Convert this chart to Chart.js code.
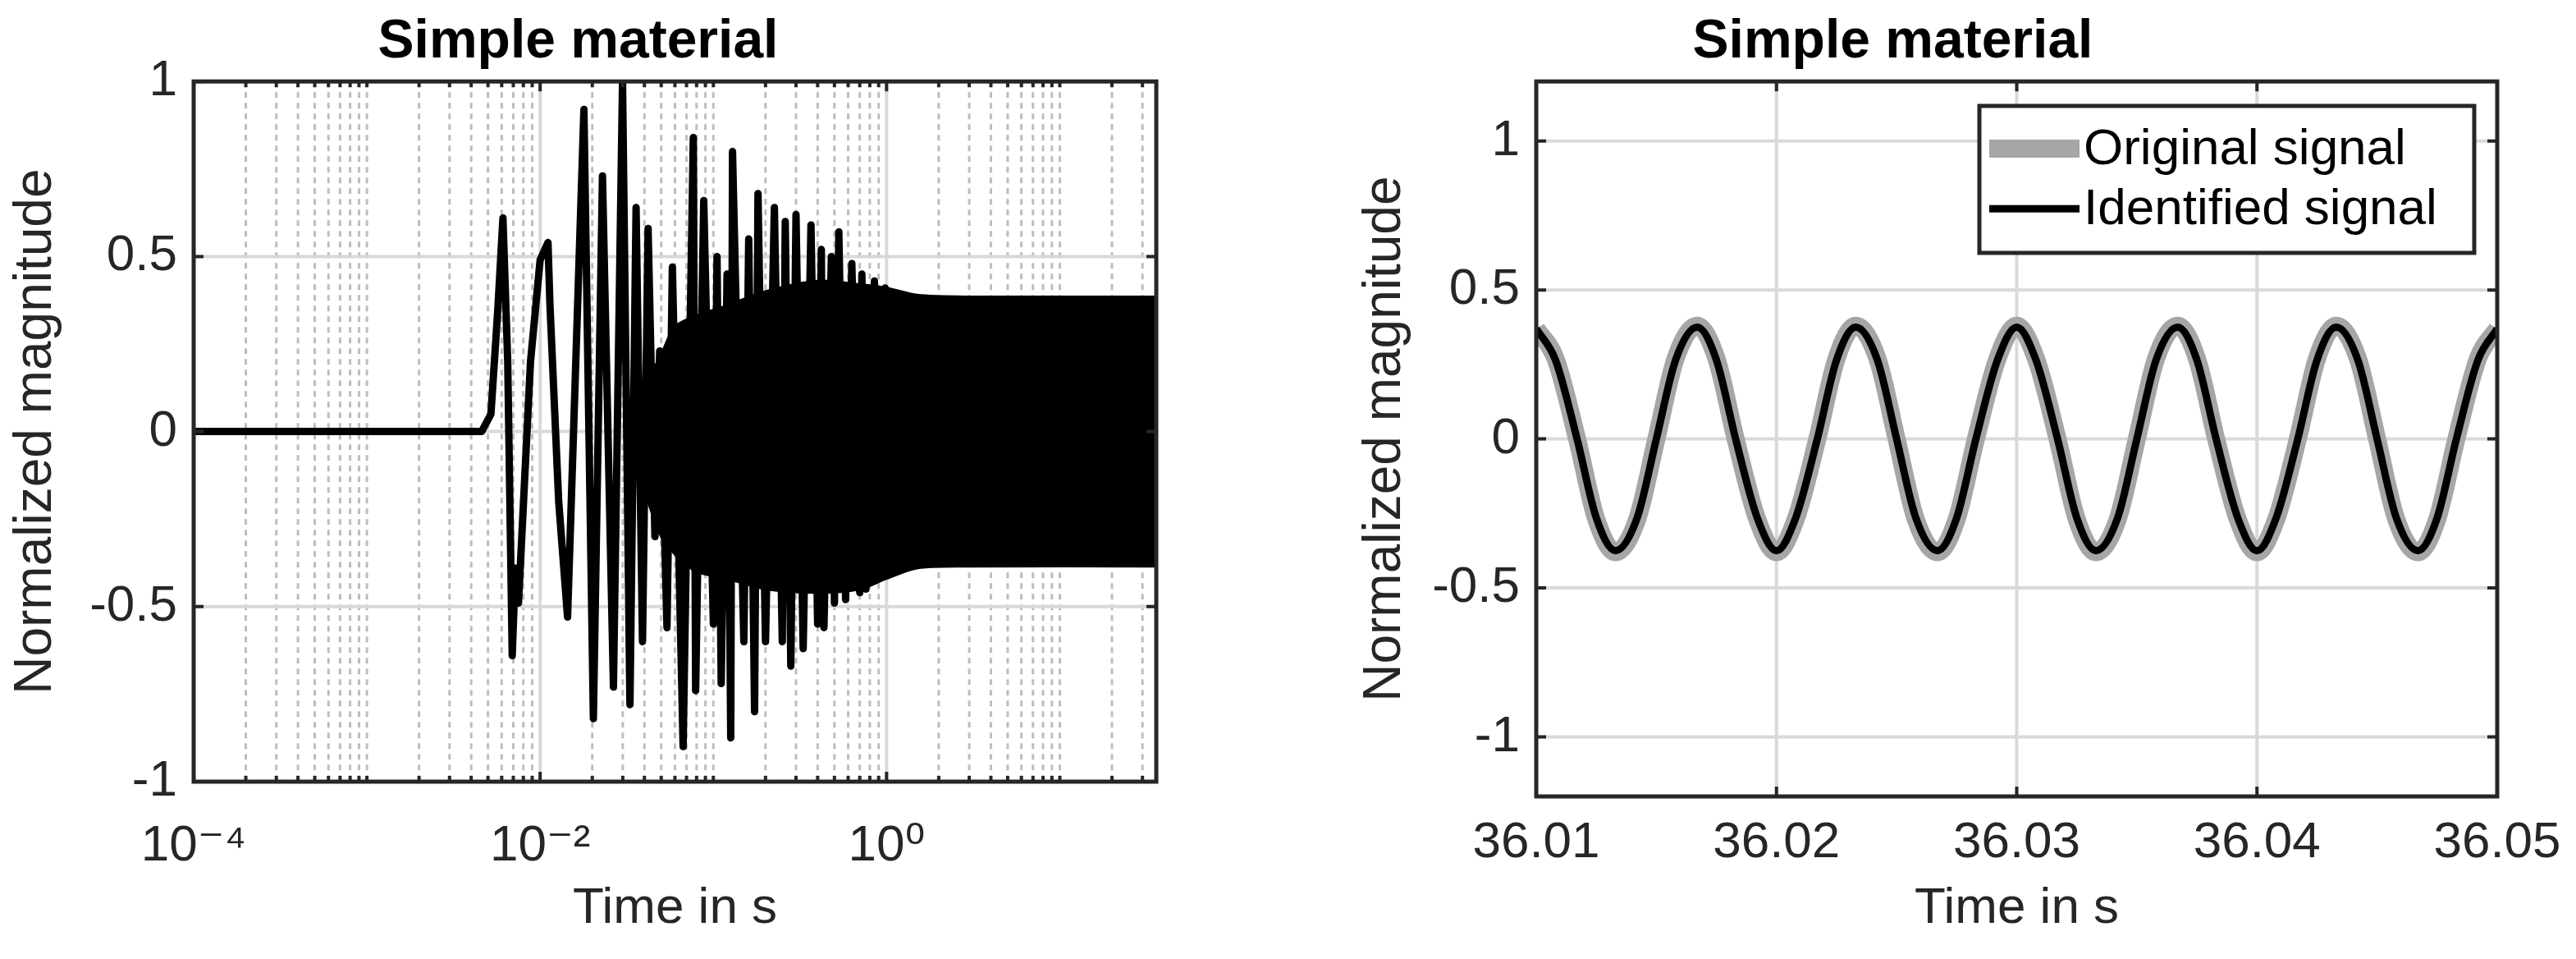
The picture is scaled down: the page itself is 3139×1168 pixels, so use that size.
<!DOCTYPE html>
<html><head><meta charset="utf-8">
<script src="https://cdn.jsdelivr.net/npm/chart.js@4/dist/chart.umd.min.js"></script>
<style>
html,body{margin:0;padding:0;background:#fff;width:3139px;height:1168px;overflow:hidden}
#w1{position:absolute;left:0;top:0;width:1570px;height:1168px}
#w2{position:absolute;left:1570px;top:0;width:1569px;height:1168px}
</style></head><body>
<div id="w1"><canvas id="c1"></canvas></div>
<div id="w2"><canvas id="c2"></canvas></div>
<script>
// ---- Left plot data (log time axis) ----
const leftTime = [1e-4,0.0046,0.0052,0.0057,0.0061,0.0065,0.0069,0.0072,0.0075,0.0088,0.0100,0.0111,0.0114,0.0128,0.0144,0.0179,0.0203,0.0229,0.0265,0.0299,0.0330,0.0358,0.039,0.042,0.046,0.049,0.054,0.058,0.0669,0.0766,0.079,0.088,0.1,0.105,0.111,0.12,0.126,0.129,0.15,0.16,0.173,0.181,0.2,0.225,0.25,0.26,0.28,0.3,0.33,0.366,0.4,0.42,0.435,0.48,0.5,0.53,0.58,0.63,0.7,0.72,0.76,0.85,0.9,0.98,1.0,1.1,1.2];
const leftValue = [0,0,0.05,0.35,0.61,0.2,-0.64,-0.39,-0.49,0.2,0.49,0.54,0.36,-0.2,-0.53,0.92,-0.82,0.73,-0.73,1.0,-0.78,0.64,-0.6,0.58,-0.3,0.23,-0.56,0.47,-0.9,0.84,-0.74,0.66,-0.55,0.5,-0.72,0.45,-0.875,0.8,-0.6,0.55,-0.8,0.68,-0.6,0.64,-0.6,0.6,-0.67,0.62,-0.62,0.59,-0.55,0.52,-0.56,0.5,-0.49,0.57,-0.48,0.48,-0.46,0.45,-0.45,0.43,-0.42,0.41,-0.4,0.39,-0.39];
// dense oscillation envelope
const bandTime  = [0.033,0.037,0.042,0.05,0.06,0.08,0.12,0.2,0.4,0.7,1.0,1.5,3,36.05];
const bandUpper = [0,0.1,0.15,0.22,0.3,0.33,0.36,0.4,0.43,0.42,0.41,0.39,0.385,0.385];
const bandLower = [0,-0.1,-0.2,-0.3,-0.35,-0.4,-0.42,-0.45,-0.46,-0.45,-0.42,-0.39,-0.385,-0.385];
const leftTickValues = [1e-4,1e-2,1];
const leftTickLabels = ['10\u207B\u2074','10\u207B\u00B2','10\u2070'];
const leftYTicks = [-1,-0.5,0,0.5,1];
// ---- Right plot data ----
const rightTime = [36.0100,36.0108,36.0117,36.0125,36.0133,36.0142,36.0150,36.0158,36.0167,36.0175,36.0183,36.0192,36.0200,36.0208,36.0217,36.0225,36.0233,36.0242,36.0250,36.0258,36.0267,36.0275,36.0283,36.0292,36.0300,36.0308,36.0317,36.0325,36.0333,36.0342,36.0350,36.0358,36.0367,36.0375,36.0383,36.0392,36.0400,36.0408,36.0417,36.0425,36.0433,36.0442,36.0450,36.0458,36.0467,36.0475,36.0483,36.0492,36.0500];
const originalSignal   = [0.37,0.27,0,-0.27,-0.38,-0.27,0,0.27,0.38,0.27,0,-0.27,-0.38,-0.27,0,0.27,0.38,0.27,0,-0.27,-0.38,-0.27,0,0.27,0.38,0.27,0,-0.27,-0.38,-0.27,0,0.27,0.38,0.27,0,-0.27,-0.38,-0.27,0,0.27,0.38,0.27,0,-0.27,-0.38,-0.27,0,0.27,0.37];
const identifiedSignal = [0.37,0.265,0,-0.265,-0.375,-0.265,0,0.265,0.375,0.265,0,-0.265,-0.375,-0.265,0,0.265,0.375,0.265,0,-0.265,-0.375,-0.265,0,0.265,0.375,0.265,0,-0.265,-0.375,-0.265,0,0.265,0.375,0.265,0,-0.265,-0.375,-0.265,0,0.265,0.375,0.265,0,-0.265,-0.375,-0.265,0,0.265,0.37];
const rightXTicks = [36.01,36.02,36.03,36.04,36.05];
const rightYTicks = [-1,-0.5,0,0.5,1];

const FONT = "'Liberation Sans', Arial, 'DejaVu Sans', sans-serif";
const TXT = '#262626';
const pts = (xs, ys) => xs.map((x,i)=>({x, y: ys[i]}));

function frame(opts){
  return {
    id:'frame',
    beforeDatasetsDraw(chart){
      const {ctx, chartArea:a, scales:{x,y}} = chart;
      ctx.save();
      ctx.beginPath(); ctx.rect(a.left,a.top,a.right-a.left,a.bottom-a.top); ctx.clip();
      if (opts.minorX){
        ctx.strokeStyle='#bdbdbd'; ctx.lineWidth=3; ctx.setLineDash([7,6]);
        for (let e=-4;e<=1;e++) for (let k=1;k<=9;k++){
          const v=k*Math.pow(10,e);
          if (opts.majorX.some(m=>Math.abs(m-v)/v<1e-6)) continue;
          const px=x.getPixelForValue(v); if(px<=a.left||px>=a.right) continue;
          ctx.beginPath(); ctx.moveTo(px,a.top); ctx.lineTo(px,a.bottom); ctx.stroke();
        }
        ctx.setLineDash([]);
      }
      ctx.strokeStyle='#d9d9d9'; ctx.lineWidth=opts.gridW;
      opts.majorX.forEach(v=>{const px=x.getPixelForValue(v);ctx.beginPath();ctx.moveTo(px,a.top);ctx.lineTo(px,a.bottom);ctx.stroke();});
      opts.majorY.forEach(v=>{const py=y.getPixelForValue(v);ctx.beginPath();ctx.moveTo(a.left,py);ctx.lineTo(a.right,py);ctx.stroke();});
      ctx.restore();
    },
    afterDatasetsDraw(chart){
      const {ctx, chartArea:a, scales:{x,y}} = chart;
      ctx.save();
      ctx.strokeStyle=TXT; ctx.lineWidth=4;
      const T=12;
      opts.majorY.forEach(v=>{const py=y.getPixelForValue(v);ctx.beginPath();ctx.moveTo(a.left,py);ctx.lineTo(a.left+T,py);ctx.moveTo(a.right,py);ctx.lineTo(a.right-T,py);ctx.stroke();});
      const xt = opts.minorX ? [] : opts.majorX;
      if (opts.minorX){ for (let e=-4;e<=1;e++) for (let k=1;k<=9;k++) xt.push(k*Math.pow(10,e)); }
      xt.forEach(v=>{const px=x.getPixelForValue(v); if(px<a.left-1||px>a.right+1) return; const t=(opts.minorX && !opts.majorX.some(m=>Math.abs(m-v)/v<1e-6))?7:T;
        ctx.beginPath();ctx.moveTo(px,a.bottom);ctx.lineTo(px,a.bottom-t);ctx.moveTo(px,a.top);ctx.lineTo(px,a.top+t);ctx.stroke();});
      ctx.lineWidth=5;
      ctx.strokeRect(a.left,a.top,a.right-a.left,a.bottom-a.top);
      if (opts.legend){
        const L=opts.legend; const ds=chart.data.datasets;
        ctx.fillStyle='#fff'; ctx.fillRect(L.x,L.y,L.w,L.h);
        ctx.lineWidth=5; ctx.strokeStyle=TXT; ctx.strokeRect(L.x,L.y,L.w,L.h);
        ctx.font='62px '+FONT; ctx.textBaseline='middle'; ctx.fillStyle='#000';
        ds.forEach((d,i)=>{
          const cy=L.y+L.h*(i===0?0.29:0.7);
          ctx.strokeStyle=d.borderColor; ctx.lineWidth=d.borderWidth;
          ctx.beginPath(); ctx.moveTo(L.x+12,cy); ctx.lineTo(L.x+122,cy); ctx.stroke();
          ctx.fillText(d.label,L.x+127,cy+2);
        });
      }
      ctx.restore();
    }
  };
}

const titleOpt = {display:true,text:'Simple material',color:'#000',font:{family:FONT,size:66,weight:'bold'},padding:{top:12,bottom:8}};
const yTitle = {display:true,text:'Normalized magnitude',color:TXT,font:{family:FONT,size:64},padding:{top:6,bottom:8}};
const xTitle = {display:true,text:'Time in s',color:TXT,font:{family:FONT,size:62},padding:{top:0,bottom:24}};
const tickFont = {family:FONT,size:62};

new Chart(document.getElementById('c1'),{
  type:'line',
  data:{datasets:[
    {data:pts(leftTime,leftValue),borderColor:'#000',borderWidth:9,pointRadius:0,fill:false,tension:0,borderJoinStyle:'round'},
    {data:pts(bandTime,bandUpper),borderColor:'#000',backgroundColor:'#000',borderWidth:3,pointRadius:0,fill:'+1',tension:0.3},
    {data:pts(bandTime,bandLower),borderColor:'#000',backgroundColor:'#000',borderWidth:3,pointRadius:0,fill:false,tension:0.3}
  ]},
  options:{
    responsive:true,maintainAspectRatio:false,animation:false,
    layout:{padding:{left:0,right:161,top:0,bottom:0}},
    plugins:{legend:{display:false},tooltip:{enabled:false},title:titleOpt},
    scales:{
      x:{type:'logarithmic',min:1e-4,max:36.05,
        afterBuildTicks:s=>{s.ticks=leftTickValues.map(v=>({value:v}));},
        afterFit:s=>{s.height=216;},
        grid:{display:false},border:{display:false},
        ticks:{color:TXT,font:tickFont,padding:34,maxRotation:0,autoSkip:false,
          callback:(v)=>{const i=leftTickValues.findIndex(t=>Math.abs(t-v)/t<1e-6);return i>=0?leftTickLabels[i]:'';}},
        title:xTitle},
      y:{min:-1,max:1,
        afterBuildTicks:s=>{s.ticks=leftYTicks.map(v=>({value:v}));},
        afterFit:s=>{s.width=236;},
        grid:{display:false},border:{display:false},
        ticks:{color:TXT,font:tickFont,padding:12,callback:v=>String(v)},
        title:yTitle}
    }
  },
  plugins:[frame({minorX:true,majorX:leftTickValues,majorY:leftYTicks,gridW:4})]
});

new Chart(document.getElementById('c2'),{
  type:'line',
  data:{datasets:[
    {label:'Original signal',order:2,data:pts(rightTime,originalSignal),borderColor:'#a6a6a6',borderWidth:22,pointRadius:0,fill:false,cubicInterpolationMode:'monotone'},
    {label:'Identified signal',order:1,data:pts(rightTime,identifiedSignal),borderColor:'#000',borderWidth:9,pointRadius:0,fill:false,cubicInterpolationMode:'monotone'}
  ]},
  options:{
    responsive:true,maintainAspectRatio:false,animation:false,
    layout:{padding:{left:0,right:96,top:0,bottom:0}},
    plugins:{legend:{display:false},tooltip:{enabled:false},title:titleOpt},
    scales:{
      x:{type:'linear',min:36.01,max:36.05,
        afterBuildTicks:s=>{s.ticks=rightXTicks.map(v=>({value:v}));},
        afterFit:s=>{s.height=198;},
        grid:{display:false},border:{display:false},
        ticks:{color:TXT,font:tickFont,padding:12,maxRotation:0,autoSkip:false,callback:v=>Number(v).toFixed(2)},
        title:xTitle},
      y:{min:-1.2,max:1.2,
        afterBuildTicks:s=>{s.ticks=rightYTicks.map(v=>({value:v}));},
        afterFit:s=>{s.width=302;},
        grid:{display:false},border:{display:false},
        ticks:{color:TXT,font:tickFont,padding:12,callback:v=>String(v)},
        title:Object.assign({},yTitle,{padding:{top:80,bottom:10}})}
    }
  },
  plugins:[frame({minorX:false,majorX:rightXTicks,majorY:rightYTicks,gridW:4,legend:{x:842,y:129,w:603,h:179}})]
});
</script></body></html>
